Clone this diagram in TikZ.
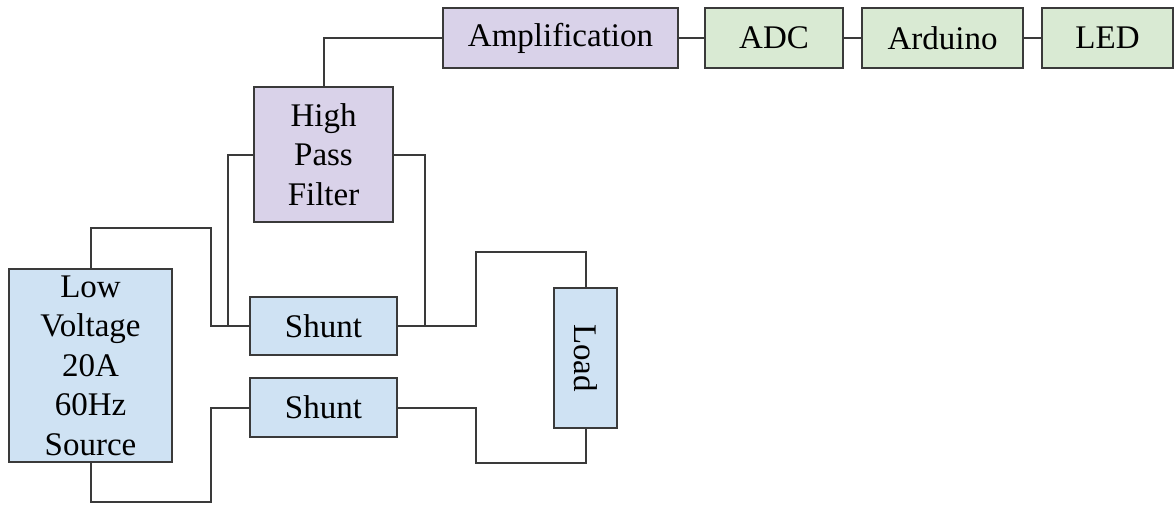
\documentclass[tikz,border=0pt]{standalone}
\usepackage{fontspec}
\setmainfont{Liberation Serif}
\definecolor{bfill}{HTML}{CFE2F3}
\definecolor{pfill}{HTML}{D9D2E9}
\definecolor{gfill}{HTML}{D9EAD3}
\definecolor{edge}{HTML}{3A3A3A}
\begin{document}
\begin{tikzpicture}[x=1pt,y=-1pt,
  blk/.style={draw=edge,line width=2pt,inner sep=0pt,align=center,
    font=\fontsize{33}{39.5}\selectfont,text=black},
  blue/.style={blk,fill=bfill},
  purp/.style={blk,fill=pfill},
  grn/.style={blk,fill=gfill},
  wire/.style={draw=edge,line width=2pt}]
\useasboundingbox (0,0) rectangle (1174,504);
\node[blue,minimum width=163pt,minimum height=193pt] (src) at (90.5,365.5) {Low\\Voltage\\20A\\60Hz\\Source};
\node[blue,minimum width=147pt,minimum height=58pt] (sh1) at (323.5,326) {Shunt};
\node[blue,minimum width=147pt,minimum height=59pt] (sh2) at (323.5,407.5) {Shunt};
\node[purp,minimum width=139pt,minimum height=135pt] (hpf) at (323.5,154.5) {High\\Pass\\Filter};
\node[purp,minimum width=235pt,minimum height=60pt] (amp) at (560.5,38) {Amplification};
\node[grn,minimum width=138pt,minimum height=60pt] (adc) at (774,38) {ADC};
\node[grn,minimum width=161pt,minimum height=60pt] (ard) at (942.5,38) {Arduino};
\node[grn,minimum width=131pt,minimum height=60pt] (led) at (1107.5,38) {LED};
\node[blue,minimum width=63pt,minimum height=140pt] (load) at (585.5,358) {};
\node[font=\fontsize{33}{39.5}\selectfont,rotate=-90,inner sep=0pt] (loadtxt) at (load.center) {Load};
\coordinate (t1) at (211,228);
\coordinate (b1) at (211,502);
\coordinate (j1) at (228,326);
\coordinate (j2) at (425,326);
\coordinate (r1) at (476,252);
\coordinate (r2) at (476,463);
\draw[wire] (src.north) |- (t1) |- (sh1.west);
\draw[wire] (src.south) |- (b1) |- (sh2.west);
\draw[wire] (hpf.west) -| (j1);
\draw[wire] (hpf.east) -| (j2);
\draw[wire] (sh1.east) -| (r1) -| (load.north);
\draw[wire] (sh2.east) -| (r2) -| (load.south);
\draw[wire] (hpf.north) |- (amp.west);
\draw[wire] (amp.east) -- (adc.west);
\draw[wire] (adc.east) -- (ard.west);
\draw[wire] (ard.east) -- (led.west);
\end{tikzpicture}
\end{document}
